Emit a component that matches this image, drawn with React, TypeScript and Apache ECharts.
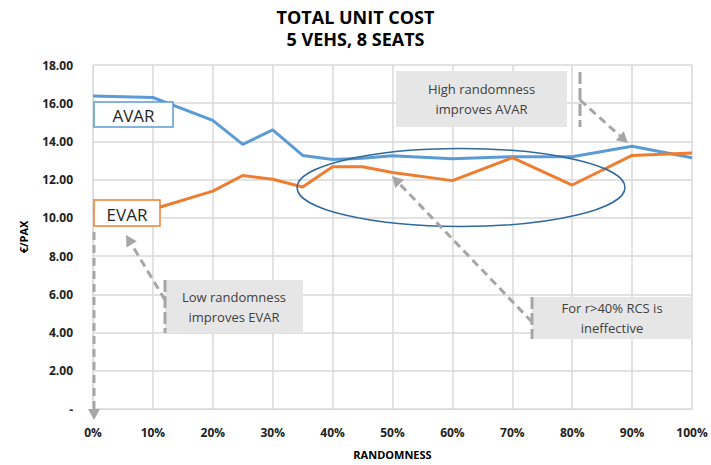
import React, { useEffect, useRef } from "react";
import * as echarts from "echarts";

const xValues = [0, 10, 20, 25, 30, 35, 40, 45, 50, 60, 70, 80, 90, 100];
const avar = [16.38, 16.3, 15.1, 13.85, 14.6, 13.27, 13.05, 13.12, 13.25, 13.1, 13.2, 13.2, 13.75, 13.15];
const evar = [10.37, 10.45, 11.4, 12.22, 12.02, 11.62, 12.68, 12.68, 12.37, 11.95, 13.15, 11.72, 13.27, 13.4];
const seriesNames = ["AVAR", "EVAR"];
const titleLines = ["TOTAL UNIT COST", "5 VEHS, 8 SEATS"];
const notes = ["High randomness\nimproves AVAR", "Low randomness\nimproves EVAR", "For r>40% RCS is\nineffective"];

const GRAY = "#A6A6A6";
const FONT = "'Open Sans', 'Noto Sans', sans-serif";

function arrow(x1: number, y1: number, x2: number, y2: number): any[] {
  const ang = Math.atan2(y2 - y1, x2 - x1);
  const len = 11, half = 6;
  const bx = x2 - len * Math.cos(ang), by = y2 - len * Math.sin(ang);
  const px = -Math.sin(ang) * half, py = Math.cos(ang) * half;
  return [
    { type: "line", z: 110, shape: { x1, y1, x2: bx, y2: by }, style: { stroke: GRAY, lineWidth: 3, lineDash: [8, 5] } },
    { type: "polygon", z: 110, shape: { points: [[x2, y2], [bx + px, by + py], [bx - px, by - py]] }, style: { fill: GRAY } },
  ];
}
function bar(x: number, y1: number, y2: number): any {
  return { type: "line", z: 110, shape: { x1: x, y1, x2: x, y2 }, style: { stroke: GRAY, lineWidth: 3, lineDash: [12, 4] } };
}
function note(x: number, y: number, w: number, h: number, text: string): any {
  return {
    type: "group", z: 105, x, y,
    children: [
      { type: "rect", z: 105, shape: { x: 0, y: 0, width: w, height: h }, style: { fill: "#E7E6E6" } },
      { type: "text", z: 106, x: w / 2, y: h / 2, style: { text, fill: "#404040", font: `13px ${FONT}`, align: "center", verticalAlign: "middle", lineHeight: 20 } },
    ],
  };
}
function label(x: number, y: number, w: number, h: number, text: string, color: string): any {
  return {
    type: "group", z: 105, x, y,
    children: [
      { type: "rect", z: 105, shape: { x: 0, y: 0, width: w, height: h }, style: { fill: "#fff", stroke: color, lineWidth: 1.5 } },
      { type: "text", z: 106, x: w / 2, y: h / 2 + 1, style: { text, fill: "#262626", font: `17px ${FONT}`, align: "center", verticalAlign: "middle" } },
    ],
  };
}

export default function App() {
  const ref = useRef<HTMLDivElement>(null);
  useEffect(() => {
    const chart = echarts.init(ref.current!, null, { renderer: "svg" });
    chart.setOption({
      animation: false,
      backgroundColor: "#fff",
      title: {
        text: titleLines.join("\n"),
        left: "center",
        top: 1,
        textStyle: { fontFamily: FONT, fontWeight: "bold", fontSize: 18, lineHeight: 22, color: "#000" },
      },
      grid: { left: 93, right: 19, top: 65, bottom: 54 },
      xAxis: {
        type: "value", min: 0, max: 100, interval: 10,
        name: "RANDOMNESS", nameLocation: "middle", nameGap: 40,
        nameTextStyle: { fontFamily: FONT, fontWeight: "bold", fontSize: 11, color: "#000" },
        axisLine: { lineStyle: { color: "#D9D9D9" } },
        axisTick: { show: false },
        axisLabel: { formatter: (v: number) => `${v}%`, margin: 17, fontFamily: FONT, fontWeight: "bold", fontSize: 12, color: "#222" },
        splitLine: { lineStyle: { color: "#D9D9D9", width: 1.5 } },
      },
      yAxis: {
        type: "value", min: 0, max: 18, interval: 2,
        name: "€/PAX", nameLocation: "middle", nameGap: 64,
        nameTextStyle: { fontFamily: FONT, fontWeight: "bold", fontSize: 11, color: "#000" },
        axisLine: { show: true, lineStyle: { color: "#D9D9D9" } },
        axisTick: { show: false },
        axisLabel: { formatter: (v: number) => (v === 0 ? "-" : v.toFixed(2)), margin: 20, fontFamily: FONT, fontWeight: "bold", fontSize: 12, color: "#222" },
        splitLine: { lineStyle: { color: "#D9D9D9", width: 1.5 } },
      },
      series: [
        { name: seriesNames[0], type: "line", data: xValues.map((x, i) => [x, avar[i]]), symbol: "none", lineStyle: { color: "#5B9BD5", width: 3 }, z: 3 },
        { name: seriesNames[1], type: "line", data: xValues.map((x, i) => [x, evar[i]]), symbol: "none", lineStyle: { color: "#ED7D31", width: 3 }, z: 3 },
      ],
      graphic: [
        { type: "ellipse", z: 100, shape: { cx: 461, cy: 187.5, rx: 164, ry: 39 }, style: { fill: "none", stroke: "#2E6A9E", lineWidth: 1.5 } },
        label(94, 102, 79, 25, seriesNames[0], "#5B9BD5"),
        label(94, 200, 66, 26, seriesNames[1], "#ED7D31"),
        note(396, 71, 171, 56, notes[0]),
        note(165, 280, 138, 53, notes[1]),
        note(532, 297, 160, 42, notes[2]),
        ...arrow(94, 232, 94, 420),
        bar(165, 280, 333),
        ...arrow(165, 300, 126, 235),
        bar(580, 72, 127),
        ...arrow(580, 100, 628, 143),
        bar(532, 297, 339),
        ...arrow(532, 322, 392, 176),
      ],
    });
    return () => chart.dispose();
  }, []);
  return <div ref={ref} style={{ position: "fixed", left: 0, top: 0, width: 711, height: 465 }} />;
}
